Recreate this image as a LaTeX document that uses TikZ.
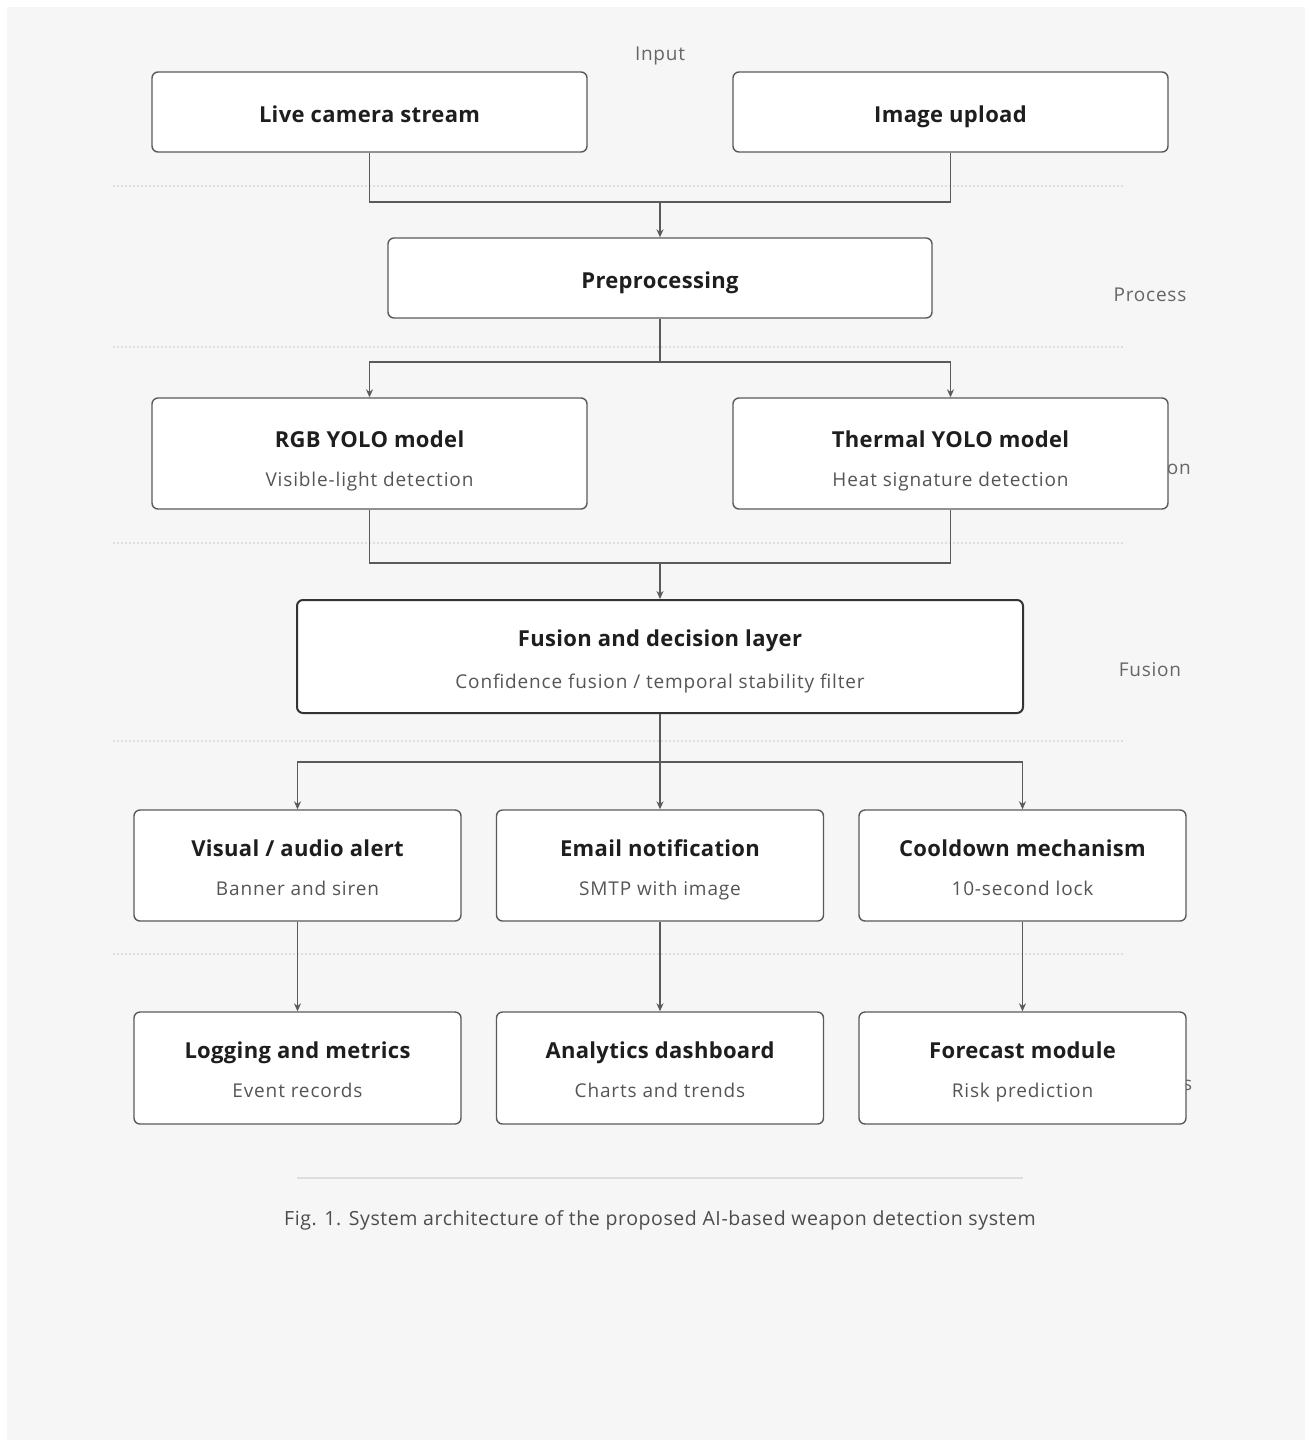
\documentclass[tikz,border=0pt]{standalone}
\usepackage{fontspec}
\setmainfont{Open Sans}
\usetikzlibrary{arrows.meta,calc}
\definecolor{bggray}{HTML}{F6F6F6}
\definecolor{edge}{HTML}{5A5A5A}
\definecolor{txt}{HTML}{1E1E1E}
\definecolor{subtxt}{HTML}{555555}
\definecolor{lbl}{HTML}{666666}
\definecolor{sep}{HTML}{DDDDDD}
\newfontfamily\ttlfam[LetterSpace=1.5]{Open Sans}
\newfontfamily\subfam[LetterSpace=4.5]{Open Sans}
\newfontfamily\lblfam[LetterSpace=4]{Open Sans}
\newfontfamily\capfam[LetterSpace=3]{Open Sans}
\begin{document}
\begin{tikzpicture}[x=1pt,y=-1pt,
  box/.style={draw=edge, line width=1.4pt, rounded corners=6pt, fill=white, inner sep=0pt},
  bigbox/.style={box, draw=black!80, line width=2pt},
  ttl/.style={anchor=base, inner sep=0pt, text=txt, font=\ttlfam\fontsize{22}{26}\selectfont\bfseries},
  sub/.style={anchor=base, inner sep=0pt, text=subtxt, font=\subfam\fontsize{19}{23}\selectfont},
  conn/.style={draw=edge, line width=1.4pt},
  arr/.style={conn, -{Stealth[length=8pt,width=7pt]}},
  side/.style={anchor=base, inner sep=0pt, font=\lblfam\fontsize{19}{23}\selectfont, text=lbl},
  dots/.style={draw=black!13, line width=1.2pt, dash pattern=on 2pt off 2pt}
]
\useasboundingbox (0,0) rectangle (1312,1444);
\fill[white] (0,0) rectangle (1312,1444);
\fill[bggray] (7,7) rectangle (1305,1440);

% dotted separators
\foreach \yy in {186,347,543,741,954} \draw[dots] (113,\yy) -- (1125,\yy);

% side labels
\node[side] (linput) at (660,60) {Input};
\node[side] (lproc) at (1150,301) {Process};
\node[side] (ldet) at (1145,474) {Detection};
\node[side] (lfus) at (1150,676) {Fusion};
\node[side] (lana) at (1150,1090) {Analytics};

% boxes
\node[box, minimum width=435pt, minimum height=80pt] (live) at (369.5,112) {};
\node[box, minimum width=435pt, minimum height=80pt] (img) at (950.5,112) {};
\node[box, minimum width=544pt, minimum height=80pt] (pre) at (660,278) {};
\node[box, minimum width=435pt, minimum height=111pt] (rgb) at (369.5,453.5) {};
\node[box, minimum width=435pt, minimum height=111pt] (thm) at (950.5,453.5) {};
\node[bigbox, minimum width=726pt, minimum height=113pt] (fus) at (660,656.5) {};
\node[box, minimum width=327pt, minimum height=111pt] (vis) at (297.5,865.5) {};
\node[box, minimum width=327pt, minimum height=111pt] (mail) at (660,865.5) {};
\node[box, minimum width=327pt, minimum height=111pt] (cool) at (1022.5,865.5) {};
\node[box, minimum width=327pt, minimum height=112pt] (log) at (297.5,1068) {};
\node[box, minimum width=327pt, minimum height=112pt] (ana) at (660,1068) {};
\node[box, minimum width=327pt, minimum height=112pt] (fc) at (1022.5,1068) {};

% texts
\node[ttl] (liveT) at ($(live.center)+(0,10)$) {Live camera stream};
\node[ttl] (imgT) at ($(img.center)+(0,10)$) {Image upload};
\node[ttl] (preT) at ($(pre.center)+(0,10)$) {Preprocessing};
\node[ttl] (rgbT) at ($(rgb.north)+(0,50)$) {RGB YOLO model};
\node[sub] (rgbS) at ($(rgb.north)+(0,89)$) {Visible-light detection};
\node[ttl] (thmT) at ($(thm.north)+(0,50)$) {Thermal YOLO model};
\node[sub] (thmS) at ($(thm.north)+(0,89)$) {Heat signature detection};
\node[ttl] (fusT) at ($(fus.north)+(0,47)$) {Fusion and decision layer};
\node[sub] (fusS) at ($(fus.north)+(0,89)$) {Confidence fusion / temporal stability filter};
\node[ttl] (visT) at ($(vis.north)+(0,47)$) {Visual / audio alert};
\node[sub] (visS) at ($(vis.north)+(0,86)$) {Banner and siren};
\node[ttl] (mailT) at ($(mail.north)+(0,47)$) {Email notification};
\node[sub] (mailS) at ($(mail.north)+(0,86)$) {SMTP with image};
\node[ttl] (coolT) at ($(cool.north)+(0,47)$) {Cooldown mechanism};
\node[sub] (coolS) at ($(cool.north)+(0,86)$) {10-second lock};
\node[ttl] (logT) at ($(log.north)+(0,47)$) {Logging and metrics};
\node[sub] (logS) at ($(log.north)+(0,86)$) {Event records};
\node[ttl] (anaT) at ($(ana.north)+(0,47)$) {Analytics dashboard};
\node[sub] (anaS) at ($(ana.north)+(0,86)$) {Charts and trends};
\node[ttl] (fcT) at ($(fc.north)+(0,47)$) {Forecast module};
\node[sub] (fcS) at ($(fc.north)+(0,86)$) {Risk prediction};

% connectors
\coordinate (m1) at (660,202);
\coordinate (s1) at (660,362);
\coordinate (m2) at (660,563);
\coordinate (s2) at (660,762);
\draw[conn] (live.south) |- (m1) -| (img.south);
\draw[arr] (m1) -- (pre.north);
\draw[conn] (pre.south) -- (s1);
\draw[arr] (s1) -| (rgb.north);
\draw[arr] (s1) -| (thm.north);
\draw[conn] (rgb.south) |- (m2) -| (thm.south);
\draw[arr] (m2) -- (fus.north);
\draw[arr] (fus.south) -- (mail.north);
\draw[arr] (s2) -| (vis.north);
\draw[arr] (s2) -| (cool.north);
\draw[arr] (vis.south) -- (log.north);
\draw[arr] (mail.south) -- (ana.north);
\draw[arr] (cool.south) -- (fc.north);

% caption
\draw[sep, line width=1.5pt] (297,1178) -- (1023,1178);
\node[anchor=base, inner sep=0pt, font=\capfam\fontsize{19.5}{23}\selectfont, text=black!70] (cap) at (660,1225) {Fig. 1. System architecture of the proposed AI-based weapon detection system};
\end{tikzpicture}
\end{document}
